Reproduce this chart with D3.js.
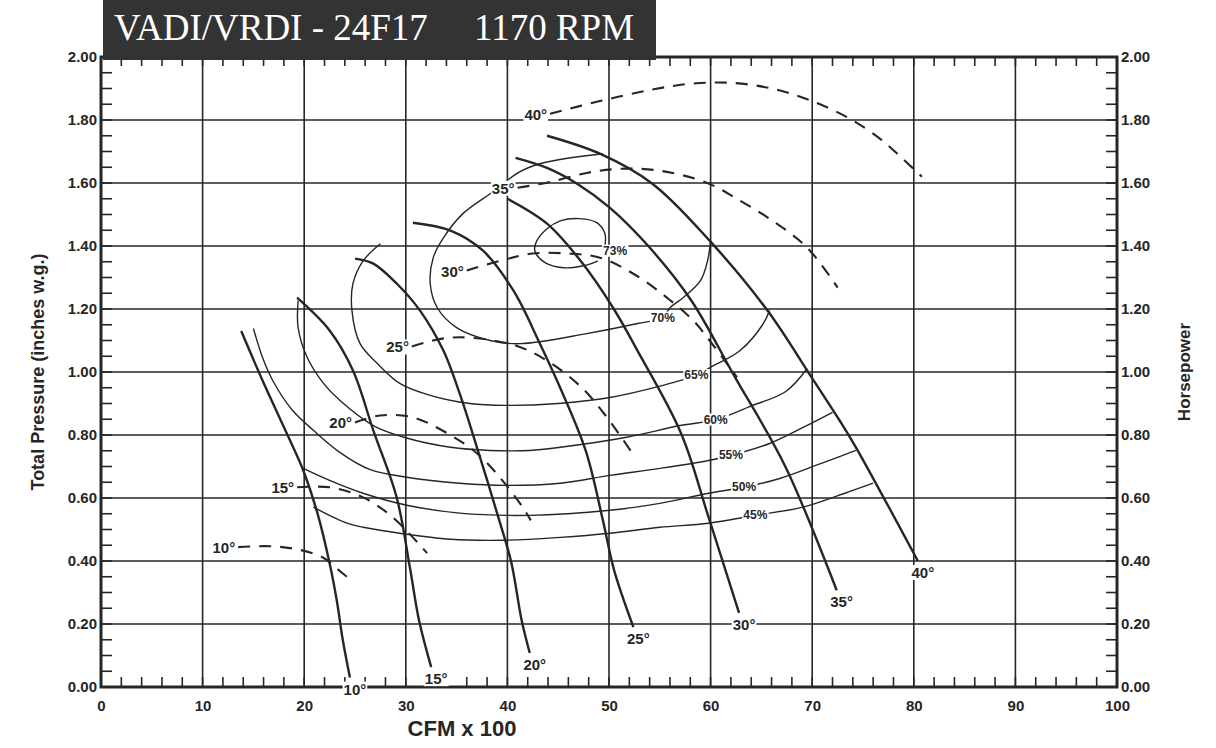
<!DOCTYPE html>
<html><head><meta charset="utf-8">
<script src="https://cdn.jsdelivr.net/npm/d3@7/dist/d3.min.js"></script>
<style>
body{margin:0;background:#fff;}
svg{display:block;}
</style></head><body>
<svg id="chart" width="1216" height="748" style="font-family:'Liberation Sans',Arial,sans-serif"></svg>
<script>
// ---------- data ----------
const cfmTicks = [0,10,20,30,40,50,60,70,80,90,100];
const pressureTicks = [0,0.2,0.4,0.6,0.8,1.0,1.2,1.4,1.6,1.8,2.0];
const hpTicks = [0,0.2,0.4,0.6,0.8,1.0,1.2,1.4,1.6,1.8,2.0];
const titleModel = "VADI/VRDI - 24F17";
const titleRpm = "1170 RPM";
const xTitle = "CFM x 100";
const yTitleLeft = "Total Pressure (inches w.g.)";
const yTitleRight = "Horsepower";

const angleNames = ["10°","15°","20°","25°","30°","35°","40°"];

// total pressure curves (CFM/100, in. w.g.) per blade angle
const p10 = [[13.8,1.13],[15.9,0.973],[18.6,0.783],[19.9,0.688],[21.3,0.552],[22.5,0.393],[23.2,0.276],[23.8,0.149],[24.5,0.03]];
const p15 = [[19.3,1.236],[22.5,1.132],[24.8,1.005],[26.8,0.815],[29.1,0.602],[30.4,0.38],[31.3,0.212],[32.5,0.063]];
const p20 = [[25.0,1.36],[26.8,1.344],[29.1,1.281],[31.4,1.195],[33.7,1.068],[35.3,0.932],[37.0,0.761],[39.2,0.529],[40.4,0.393],[41.4,0.212],[42.2,0.108]];
const p25 = [[30.7,1.474],[34.4,1.449],[37.6,1.385],[40.6,1.258],[43.2,1.09],[45.0,0.964],[47.7,0.751],[49.4,0.529],[50.5,0.371],[52.4,0.19]];
const p30 = [[40.0,1.55],[43.9,1.471],[47.2,1.353],[50.4,1.204],[52.8,1.068],[57.1,0.805],[59.8,0.539],[62.8,0.235]];
const p35 = [[40.8,1.68],[43.9,1.648],[46.9,1.597],[50.1,1.521],[54.0,1.395],[58.1,1.227],[62.2,0.995],[67.4,0.697],[72.4,0.307]];
const p40 = [[43.9,1.75],[49.1,1.693],[54.3,1.597],[59.9,1.417],[65.6,1.195],[69.7,0.995],[72.7,0.846],[74.3,0.761],[80.4,0.40]];

// horsepower curves (dashed) per blade angle
const hp10 = [[13.5,0.444],[16.6,0.447],[19.3,0.437],[21.8,0.412],[23.4,0.371],[24.6,0.339]];
const hp15 = [[19.3,0.634],[22.5,0.634],[25.8,0.602],[28.7,0.539],[32.1,0.425]];
const hp20 = [[25.0,0.84],[27.5,0.862],[30.7,0.856],[34.1,0.805],[37.0,0.742],[39.5,0.656],[41.5,0.571],[42.3,0.529]];
const hp25 = [[30.6,1.081],[33.6,1.106],[36.3,1.109],[40.8,1.084],[43.9,1.036],[47.3,0.951],[49.8,0.856],[52.3,0.742]];
const hp30 = [[36.0,1.322],[39.3,1.353],[42.5,1.376],[45.9,1.376],[49.1,1.363],[52.4,1.312],[55.7,1.236],[58.3,1.163],[59.9,1.10],[62.6,0.983]];
const hp35 = [[41.0,1.585],[43.9,1.601],[47.8,1.632],[51.1,1.645],[55.0,1.639],[59.6,1.601],[62.9,1.544],[66.1,1.48],[69.5,1.395],[72.5,1.268]];
const hp40 = [[44.2,1.82],[49.1,1.86],[54.0,1.895],[58.0,1.915],[62.0,1.918],[66.0,1.90],[70.0,1.86],[73.7,1.804],[76.5,1.745],[78.6,1.686],[80.8,1.62]];

// static efficiency contours
const effNames = ["45%","50%","55%","60%","65%","70%","73%"];
const eff45 = [[20.9,0.571],[24.2,0.52],[25.8,0.507],[29.4,0.488],[34.4,0.469],[39.8,0.466],[45.2,0.475],[50.1,0.488],[55.0,0.507],[59.8,0.52],[64.4,0.545],[69.1,0.571],[73.2,0.615],[76.0,0.647]];
const eff50 = [[19.9,0.694],[22.5,0.656],[25.8,0.615],[30.1,0.577],[35.3,0.552],[42.2,0.545],[50.1,0.561],[55.0,0.583],[59.8,0.615],[63.3,0.634],[66.8,0.662],[70.9,0.71],[74.3,0.751]];
const eff55 = [[15.0,1.138],[15.9,1.046],[16.9,0.973],[18.8,0.88],[20.9,0.815],[23.5,0.745],[26.5,0.69],[30.1,0.666],[35.3,0.647],[39.8,0.64],[45.2,0.647],[50.1,0.672],[55.0,0.694],[59.8,0.719],[62.0,0.735],[65.8,0.773],[69.1,0.824],[72.0,0.872]];
const eff60 = [[19.4,1.227],[19.4,1.141],[20.3,1.046],[21.9,0.964],[23.5,0.91],[26.8,0.83],[29.9,0.792],[34.4,0.761],[38.3,0.751],[42.2,0.751],[45.2,0.761],[51.6,0.792],[57.0,0.83],[60.5,0.849],[63.9,0.891],[67.4,0.938],[69.5,1.011]];
const eff65 = [[27.5,1.407],[25.8,1.353],[24.8,1.281],[24.7,1.195],[25.5,1.09],[27.2,1.027],[29.4,0.964],[32.4,0.926],[36.3,0.9],[39.8,0.894],[45.0,0.9],[50.1,0.919],[55.0,0.955],[58.6,0.99],[60.0,1.015],[62.9,1.068],[65.2,1.154],[65.8,1.195]];
const eff70 = [[49.4,1.693],[46.2,1.68],[43.2,1.661],[41.2,1.635],[38.3,1.566],[35.6,1.502],[33.7,1.426],[32.7,1.363],[32.4,1.281],[33.1,1.204],[35.0,1.141],[38.3,1.10],[41.2,1.09],[47.8,1.122],[52.8,1.154],[55.3,1.173],[56.0,1.204],[57.3,1.236],[59.0,1.29],[59.7,1.353],[60.0,1.417]];
const eff73 = [[49.6,1.401],[49.6,1.439],[48.8,1.474],[47.1,1.487],[45.2,1.48],[43.9,1.455],[42.9,1.417],[42.7,1.385],[43.7,1.347],[45.5,1.331],[47.6,1.338],[48.9,1.353]];
const effLabelAt = [[64.4,0.545],[63.3,0.634],[62.0,0.735],[60.5,0.849],[58.6,0.99],[55.3,1.173],[50.6,1.385]];

// ---------- drawing ----------
const pressureCurves = [p10,p15,p20,p25,p30,p35,p40];
const hpCurves = [hp10,hp15,hp20,hp25,hp30,hp35,hp40];
const effCurves = [eff45,eff50,eff55,eff60,eff65,eff70,eff73];

const svg = d3.select("#chart");
const x = d3.scaleLinear().domain([0,100]).range([101,1117]);
const y = d3.scaleLinear().domain([0,2]).range([687,57]);
const ink = "#262626";
const sans = "'Liberation Sans',Arial,sans-serif";
const serif = "'Liberation Serif','Times New Roman',serif";

// grid
const grid = svg.append("g").attr("stroke", ink).attr("stroke-width", 1.6);
grid.selectAll(".gx").data(cfmTicks.filter(d => d > 0 && d < 100)).join("line")
  .attr("x1", d => x(d)).attr("x2", d => x(d)).attr("y1", y(0)).attr("y2", y(2));
grid.selectAll(".gy").data(pressureTicks.filter(d => d > 0 && d < 2)).join("line")
  .attr("x1", x(0)).attr("x2", x(100)).attr("y1", d => y(d)).attr("y2", d => y(d));

// minor ticks
const ticks = svg.append("g").attr("stroke", ink).attr("stroke-width", 1.6);
const xMinor = d3.range(2, 100, 2);
const yMinor = d3.range(0.05, 2, 0.05);
ticks.selectAll(".tb").data(xMinor).join("line")
  .attr("x1", d => x(d)).attr("x2", d => x(d)).attr("y1", y(0)).attr("y2", y(0) - 10);
ticks.selectAll(".tt").data(xMinor).join("line")
  .attr("x1", d => x(d)).attr("x2", d => x(d)).attr("y1", y(2)).attr("y2", y(2) + 9);
ticks.selectAll(".tl").data(yMinor).join("line")
  .attr("x1", x(0)).attr("x2", x(0) + 11).attr("y1", d => y(d)).attr("y2", d => y(d));
ticks.selectAll(".tr").data(yMinor).join("line")
  .attr("x1", x(100)).attr("x2", x(100) - 11).attr("y1", d => y(d)).attr("y2", d => y(d));

// frame
svg.append("rect").attr("x", x(0)).attr("y", y(2)).attr("width", x(100) - x(0)).attr("height", y(0) - y(2))
  .attr("fill", "none").attr("stroke", ink).attr("stroke-width", 3);

// axes labels via d3 axes
const fmt = d3.format(".2f");
const axL = svg.append("g").attr("transform", `translate(${x(0) - 4},0)`)
  .call(d3.axisLeft(y).tickValues(pressureTicks).tickFormat(fmt).tickSize(0).tickPadding(0));
const axR = svg.append("g").attr("transform", `translate(${x(100) + 4},0)`)
  .call(d3.axisRight(y).tickValues(hpTicks).tickFormat(fmt).tickSize(0).tickPadding(0));
const axB = svg.append("g").attr("transform", `translate(0,${y(0) + 10})`)
  .call(d3.axisBottom(x).tickValues(cfmTicks).tickFormat(d3.format("d")).tickSize(0).tickPadding(0));
[axL, axR, axB].forEach(a => {
  a.select(".domain").remove();
  a.selectAll("text").style("font-family", sans)
    .attr("font-size", 15).attr("font-weight", "bold").attr("fill", ink);
});
axB.selectAll("text").attr("dy", "0.9em");

// curves
const line = d3.line().x(d => x(d[0])).y(d => y(d[1])).curve(d3.curveCatmullRom.alpha(0.5));
svg.append("g").selectAll("path").data(effCurves).join("path")
  .attr("d", line).attr("fill", "none").attr("stroke", ink).attr("stroke-width", 1.4);
svg.append("g").selectAll("path").data(hpCurves).join("path")
  .attr("d", line).attr("fill", "none").attr("stroke", ink).attr("stroke-width", 2.1)
  .attr("stroke-dasharray", "12,9");
svg.append("g").selectAll("path").data(pressureCurves).join("path")
  .attr("d", line).attr("fill", "none").attr("stroke", ink).attr("stroke-width", 2.4);

// label helper with white background
function label(g, tx, ty, txt, anchor, size) {
  const t = g.append("text").attr("x", tx).attr("y", ty).attr("text-anchor", anchor)
    .style("font-family", sans).attr("font-size", size).attr("font-weight", "bold").attr("fill", ink).text(txt);
  const b = t.node().getBBox();
  g.insert("rect", () => t.node()).attr("x", b.x - 1).attr("y", b.y + 1)
    .attr("width", b.width + 2).attr("height", b.height - 2).attr("fill", "#fff");
}
const labs = svg.append("g");
pressureCurves.forEach((c, i) => {
  const e = c[c.length - 1];
  label(labs, x(e[0]) + 5, y(e[1]) + 17, angleNames[i], "middle", 15);
});
hpCurves.forEach((c, i) => {
  const s = c[0];
  label(labs, x(s[0]) - 3, y(s[1]) + 6, angleNames[i], "end", 15);
});
effLabelAt.forEach((p, i) => {
  label(labs, x(p[0]), y(p[1]) + 4, effNames[i], "middle", 12);
});

// axis titles
svg.append("text").attr("x", 462).attr("y", 736).attr("text-anchor", "middle").style("font-family", sans)
  .attr("font-size", 22).attr("font-weight", "bold").attr("fill", ink).text(xTitle);
svg.append("text").attr("transform", `translate(44,${(y(0) + y(2)) / 2}) rotate(-90)`).style("font-family", sans)
  .attr("text-anchor", "middle").attr("font-size", 18).attr("font-weight", "bold").attr("fill", ink).text(yTitleLeft);
svg.append("text").attr("transform", `translate(1190,${(y(0) + y(2)) / 2}) rotate(-90)`).style("font-family", sans)
  .attr("text-anchor", "middle").attr("font-size", 17).attr("font-weight", "bold").attr("fill", ink).text(yTitleRight);

// title block
svg.append("rect").attr("x", 103).attr("y", 0).attr("width", 553).attr("height", 60).attr("fill", "#333");
svg.append("text").attr("x", 114).attr("y", 40).style("font-family", serif)
  .attr("font-size", 37).attr("fill", "#fff").text(titleModel);
svg.append("text").attr("x", 474).attr("y", 40).style("font-family", serif)
  .attr("font-size", 37).attr("fill", "#fff").text(titleRpm);
</script>
</body></html>
